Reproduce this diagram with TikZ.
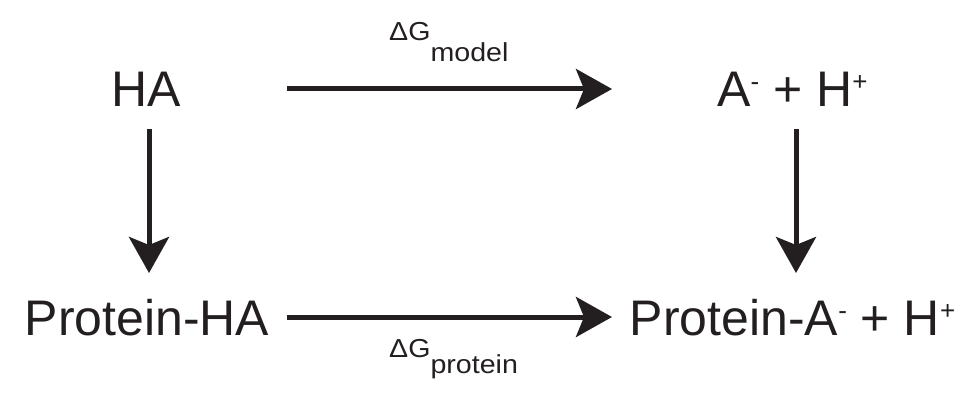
\documentclass[tikz,border=0pt]{standalone}
\usepackage{fontspec}
\setmainfont{Liberation Sans}
\newfontfamily\lblfont[FakeStretch=1.1]{Liberation Sans}
\usetikzlibrary{arrows.meta}
\definecolor{ink}{HTML}{231F20}
\newcommand{\spx}[1]{\raisebox{16pt}{\fontsize{26}{26}\selectfont #1}}
\tikzset{
  chem/.style={inner sep=0pt, anchor=base, text height=36pt, text depth=0pt,
    font=\fontsize{50}{50}\selectfont, text=ink},
  lbl/.style={inner sep=0pt, anchor=base west, text=ink,
    font=\lblfont\fontsize{26}{26}\selectfont},
  arr/.style={line width=5pt, draw=ink,
    -{Stealth[length=36pt,width=40pt,inset=8pt]}}
}
\begin{document}
\begin{tikzpicture}[x=1pt,y=1pt]
\useasboundingbox (0,0) rectangle (979,407);
\node[chem] (HA) at (146,300) {HA};
\node[chem] (A) at (792.5,300) {A\spx{-} + H\spx{+}};
\node[chem] (PHA) at (147,72) {Protein-HA};
\node[chem] (PA) at (792.5,72) {Protein-A\spx{-} + H\spx{+}};
\draw[arr, shorten <=141pt, shorten >=180.5pt] (HA.center) -- (A.center);
\draw[arr, shorten <=140pt, shorten >=180.5pt] (PHA.center) -- (PA.center);
\draw[arr, shorten <=40pt, shorten >=44pt] ([xshift=3pt]HA.center) -- ([xshift=2pt]PHA.center);
\draw[arr, shorten <=40pt, shorten >=44pt] ([xshift=3.5pt]A.center) -- ([xshift=3.5pt]PA.center);
\node[lbl] (Gm) at (389,366) {ΔG\raisebox{-21pt}{model}};
\node[lbl] (Gp) at (389,50) {ΔG\raisebox{-16pt}{protein}};
\end{tikzpicture}
\end{document}
